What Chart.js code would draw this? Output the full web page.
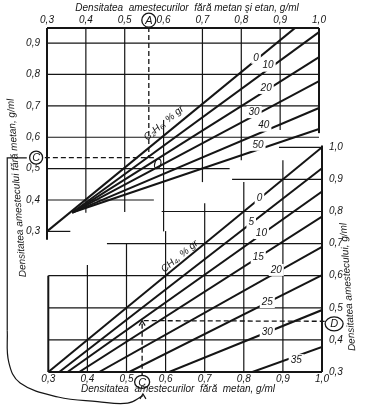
<!DOCTYPE html>
<html>
<head>
<meta charset="utf-8">
<script src="https://cdn.jsdelivr.net/npm/chart.js@4/dist/chart.umd.min.js"></script>
<style>
    html, body { margin: 0; padding: 0; background: #fff; }
    #wrap { width: 365px; height: 414px; position: relative; }
</style>
</head>
<body>
<div id="wrap"><canvas id="nomo"></canvas></div>
<script>
// ── date citite de pe nomogramă ──
const xTicks    = [0.3, 0.4, 0.5, 0.6, 0.7, 0.8, 0.9, 1.0];
const yTopTicks = [0.3, 0.4, 0.5, 0.6, 0.7, 0.8, 0.9];
const yBotTicks = [0.3, 0.4, 0.5, 0.6, 0.7, 0.8, 0.9, 1.0];

// C2H6, % gr (sus)
const ethanePct    = [0, 10, 20, 30, 40, 50];
const ethaneStartX = [0.30, 0.365, 0.365, 0.365, 0.365, 0.365];
const ethaneStartY = [0.30, 0.36, 0.36, 0.36, 0.36, 0.36];
const ethaneEndX   = [0.94, 1.0, 1.0, 1.0, 1.0, 1.0];
const ethaneEndY   = [0.95, 0.935, 0.855, 0.779, 0.693, 0.626];

// CH4, % gr (jos) – pleacă de pe axa 0,3 și ajung pe axa 1,0
const methanePct    = [0, 5, 10, 15, 20, 25, 30, 35];
const methaneStartX = [0.30, 0.328, 0.349, 0.379, 0.43, 0.507, 0.609, 0.822];
const methaneEndY   = [1.0, 0.935, 0.862, 0.784, 0.69, 0.602, 0.493, 0.378];

// exemplul de citire (A → C → D)
const exampleA = 0.562;
const exampleC = 0.535;
const exampleCx = 0.54;
const exampleD = 0.458;

const INK = '#151515';
const FONT = '"Liberation Sans", Arial, sans-serif';

// poziția etichetelor pe linii (unități de date)
const ethaneLabelAt  = [[0.838, 0.853], [0.869, 0.828], [0.864, 0.757], [0.833, 0.680], [0.858, 0.637], [0.843, 0.576]];
const methaneLabelAt = [[0.840, 0.842], [0.819, 0.767], [0.845, 0.733], [0.837, 0.658], [0.883, 0.618], [0.860, 0.518], [0.860, 0.425], [0.934, 0.337]];

// rețeaua: [valoare, de la, până la]
const gridTopH = [[0.9, 0.3, 1.0], [0.8, 0.3, 1.0], [0.7, 0.3, 1.0], [0.6, 0.3, 1.0], [0.5, 0.3, 0.77], [0.4, 0.3, 0.575], [0.3, 0.3, 0.36]];
const gridTopV = [[0.4, 0.948, 0.359], [0.5, 0.948, 0.362], [0.6, 0.655, 0.30], [0.7, 0.948, 0.457], [0.8, 0.948, 0.527], [0.9, 0.948, 0.623]];
const gridBotH = [[1.0, 0.89, 1.0], [0.9, 0.77, 1.0], [0.8, 0.59, 1.0], [0.7, 0.45, 1.0], [0.6, 0.3, 1.0], [0.5, 0.3, 1.0], [0.4, 0.3, 1.0]];
const gridBotV = [[0.4, 0.633, 0.3], [0.5, 0.70, 0.3], [0.6, 0.739, 0.3], [0.7, 0.826, 0.3], [0.8, 0.892, 0.3], [0.9, 0.96, 0.3]];

// săgeata curbă de la C (stânga) la C (jos), de la capăt spre început
const arrowCurve = [
    [0.542, 0.226], [0.503, 0.203], [0.426, 0.208], [0.325, 0.222], [0.228, 0.266],
    [0.199, 0.33], [0.195, 0.43], [0.195, 0.967], [0.245, 0.967],
];

function fmt(v) {
    return v.toFixed(1).replace('.', ',');
}

function lineSet(points, xId, yId, extra) {
    return Object.assign({
        data: points,
        xAxisID: xId,
        yAxisID: yId,
        showLine: true,
        borderColor: INK,
        borderWidth: 2,
        pointRadius: 0,
        tension: 0,
    }, extra || {});
}

const datasets = [];

ethanePct.forEach((p, i) => {
    datasets.push(lineSet([
        { x: ethaneStartX[i], y: ethaneStartY[i] },
        { x: ethaneEndX[i], y: ethaneEndY[i] },
    ], 'xTop', 'yL'));
});

methanePct.forEach((p, i) => {
    datasets.push(lineSet([
        { x: methaneStartX[i], y: 0.3 },
        { x: 1.0, y: methaneEndY[i] },
    ], 'xBot', 'yR'));
});

// liniile punctate ale exemplului
const dashed = { borderWidth: 1.3, borderDash: [5, 3], clip: false };
datasets.push(lineSet([{ x: exampleA, y: 0.951 }, { x: exampleA, y: exampleC }], 'xTop', 'yL', dashed));
datasets.push(lineSet([{ x: 0.575, y: exampleC }, { x: 0.292, y: exampleC }], 'xTop', 'yL', dashed));
datasets.push(lineSet([{ x: exampleCx, y: 0.285 }, { x: exampleCx, y: 0.46 }], 'xBot', 'yR', dashed));
datasets.push(lineSet([{ x: 1.007, y: exampleD }, { x: exampleCx, y: 0.46 }], 'xBot', 'yR', dashed));

// curba (punctele în ordine descrescătoare pe x, ca să nu fie tăiate)
datasets.push(lineSet(arrowCurve.slice(0, 7).map(([x, y]) => ({ x, y })), 'xBot', 'yR',
    { borderWidth: 1.2, clip: false, tension: 0.4 }));
datasets.push(lineSet(arrowCurve.slice(6).reverse().map(([x, y]) => ({ x, y })), 'xBot', 'yR',
    { borderWidth: 1.2, clip: false }));

function tickAxis(values, position, fit, pad) {
    return {
        type: 'linear',
        position: position,
        afterBuildTicks: s => { s.ticks = values.map(v => ({ value: v })); },
        afterFit: fit,
        grid: { display: false, drawTicks: false },
        border: { display: false },
        ticks: {
            autoSkip: false,
            maxRotation: 0,
            padding: pad,
            color: INK,
            font: { family: FONT, size: 10, style: 'italic' },
            callback: v => fmt(v),
        },
    };
}

const nomogram = {
    id: 'nomogram',
    beforeDatasetsDraw(chart) {
        const { ctx, scales } = chart;
        const xt = scales.xTop, xb = scales.xBot, yl = scales.yL, yr = scales.yR;
        ctx.save();
        ctx.strokeStyle = INK;
        const seg = (xs, ys, x1, y1, x2, y2, w) => {
            ctx.lineWidth = w;
            ctx.beginPath();
            ctx.moveTo(xs.getPixelForValue(x1), ys.getPixelForValue(y1));
            ctx.lineTo(xs.getPixelForValue(x2), ys.getPixelForValue(y2));
            ctx.stroke();
        };
        gridTopH.forEach(([y, a, b]) => seg(xt, yl, a, y, b, y, 1.2));
        gridTopV.forEach(([x, a, b]) => seg(xt, yl, x, a, x, b, 1.2));
        gridBotH.forEach(([y, a, b]) => seg(xb, yr, a, y, b, y, 1.2));
        gridBotV.forEach(([x, a, b]) => seg(xb, yr, x, a, x, b, 1.2));

        // ramele
        seg(xt, yl, 0.3, 0.948, 1.0, 0.948, 2);
        seg(xt, yl, 0.3, 0.948, 0.3, 0.273, 2);
        seg(xt, yl, 1.0, 0.948, 1.0, 0.613, 2);
        seg(xb, yr, 0.3, 0.3, 1.0, 0.3, 2);
        seg(xb, yr, 0.3, 0.6, 0.3, 0.3, 2);
        seg(xb, yr, 1.0, 1.006, 1.0, 0.3, 2);
        ctx.restore();
    },
    afterDatasetsDraw(chart) {
        const { ctx, scales } = chart;
        const xt = scales.xTop, xb = scales.xBot, yl = scales.yL, yr = scales.yR;
        ctx.save();
        ctx.fillStyle = INK;
        ctx.strokeStyle = INK;
        ctx.textAlign = 'center';
        ctx.textBaseline = 'middle';
        ctx.font = 'italic 10px ' + FONT;

        const tag = (txt, px, py) => {
            const w = ctx.measureText(txt).width + 4;
            ctx.fillStyle = '#fff';
            ctx.fillRect(px - w / 2, py - 6, w, 12);
            ctx.fillStyle = INK;
            ctx.fillText(txt, px, py);
        };
        ethanePct.forEach((p, i) => {
            const [x, y] = ethaneLabelAt[i];
            tag(String(p), xt.getPixelForValue(x), yl.getPixelForValue(y));
        });
        methanePct.forEach((p, i) => {
            const [x, y] = methaneLabelAt[i];
            tag(String(p), xb.getPixelForValue(x), yr.getPixelForValue(y));
        });

        // denumirile familiilor de curbe
        const slanted = (txt, px, py, ang) => {
            ctx.save();
            ctx.translate(px, py);
            ctx.rotate(ang);
            ctx.fillText(txt, 0, 0);
            ctx.restore();
        };
        slanted('C\u2082H\u2086, % gr', xt.getPixelForValue(0.601), yl.getPixelForValue(0.645), -0.69);
        slanted('CH\u2084, % gr', xb.getPixelForValue(0.636), yr.getPixelForValue(0.66), -0.69);

        // cercurile cu litere
        const ring = (letter, px, py, rx, ry) => {
            ctx.fillStyle = '#fff';
            ctx.lineWidth = 1.3;
            ctx.beginPath();
            ctx.ellipse(px, py, rx, ry, 0, 0, Math.PI * 2);
            ctx.fill();
            ctx.stroke();
            ctx.fillStyle = INK;
            ctx.font = 'italic 11px ' + FONT;
            ctx.fillText(letter, px, py + 0.5);
        };
        ring('A', xt.getPixelForValue(exampleA), yl.getPixelForValue(0.973), 7, 7);
        ring('C', xt.getPixelForValue(0.272), yl.getPixelForValue(exampleC), 6.5, 6.5);
        ring('C', xb.getPixelForValue(exampleCx), yr.getPixelForValue(0.269), 7.5, 6.5);
        ring('D', xb.getPixelForValue(1.031), yr.getPixelForValue(0.45), 9, 7);

        // semnul mic din punctul de citire
        ctx.lineWidth = 1.2;
        ctx.beginPath();
        ctx.ellipse(xt.getPixelForValue(0.585), yl.getPixelForValue(0.515), 3, 5, 0.3, 0, Math.PI * 2);
        ctx.stroke();

        // vârfuri de săgeată
        const head = (px, py) => {
            ctx.lineWidth = 1.2;
            ctx.beginPath();
            ctx.moveTo(px - 3, py + 5);
            ctx.lineTo(px, py);
            ctx.lineTo(px + 3, py + 5);
            ctx.stroke();
        };
        head(xb.getPixelForValue(exampleCx), yr.getPixelForValue(0.46));
        head(xb.getPixelForValue(0.542), yr.getPixelForValue(0.232));

        // titlurile axelor
        ctx.font = 'italic 10px ' + FONT;
        ctx.fillText('Densitatea  amestecurilor  fără metan şi etan, g/ml', 187, 8);
        ctx.fillText('Densitatea  amestecurilor  fără  metan, g/ml', 178, 389);
        slanted('Densitatea amestecului fără metan, g/ml', 17, 188, -Math.PI / 2 - 0.07);
        slanted('Densitatea amestecului, g/ml', 348, 287, -Math.PI / 2 - 0.07);
        ctx.restore();
    },
};

new Chart(document.getElementById('nomo'), {
    type: 'scatter',
    data: { datasets },
    plugins: [nomogram],
    options: {
        responsive: true,
        maintainAspectRatio: false,
        animation: false,
        layout: { padding: 0 },
        plugins: { legend: { display: false }, tooltip: { enabled: false } },
        scales: {
            xTop: Object.assign(tickAxis(xTicks, 'top', s => { s.height = 28; }, 2), { min: 0.3, max: 1.0077 }),
            xBot: Object.assign(tickAxis(xTicks, 'bottom', s => { s.height = 42; }, 1), { min: 0.2967, max: 1.0 }),
            yL: Object.assign(tickAxis(yTopTicks, 'left', s => { s.width = 47; }, 7), { min: -0.148, max: 0.948 }),
            yR: Object.assign(tickAxis(yBotTicks, 'right', s => { s.width = 43; }, 7), { min: 0.3, max: 1.3717 }),
        },
    },
});
</script>
</body>
</html>
